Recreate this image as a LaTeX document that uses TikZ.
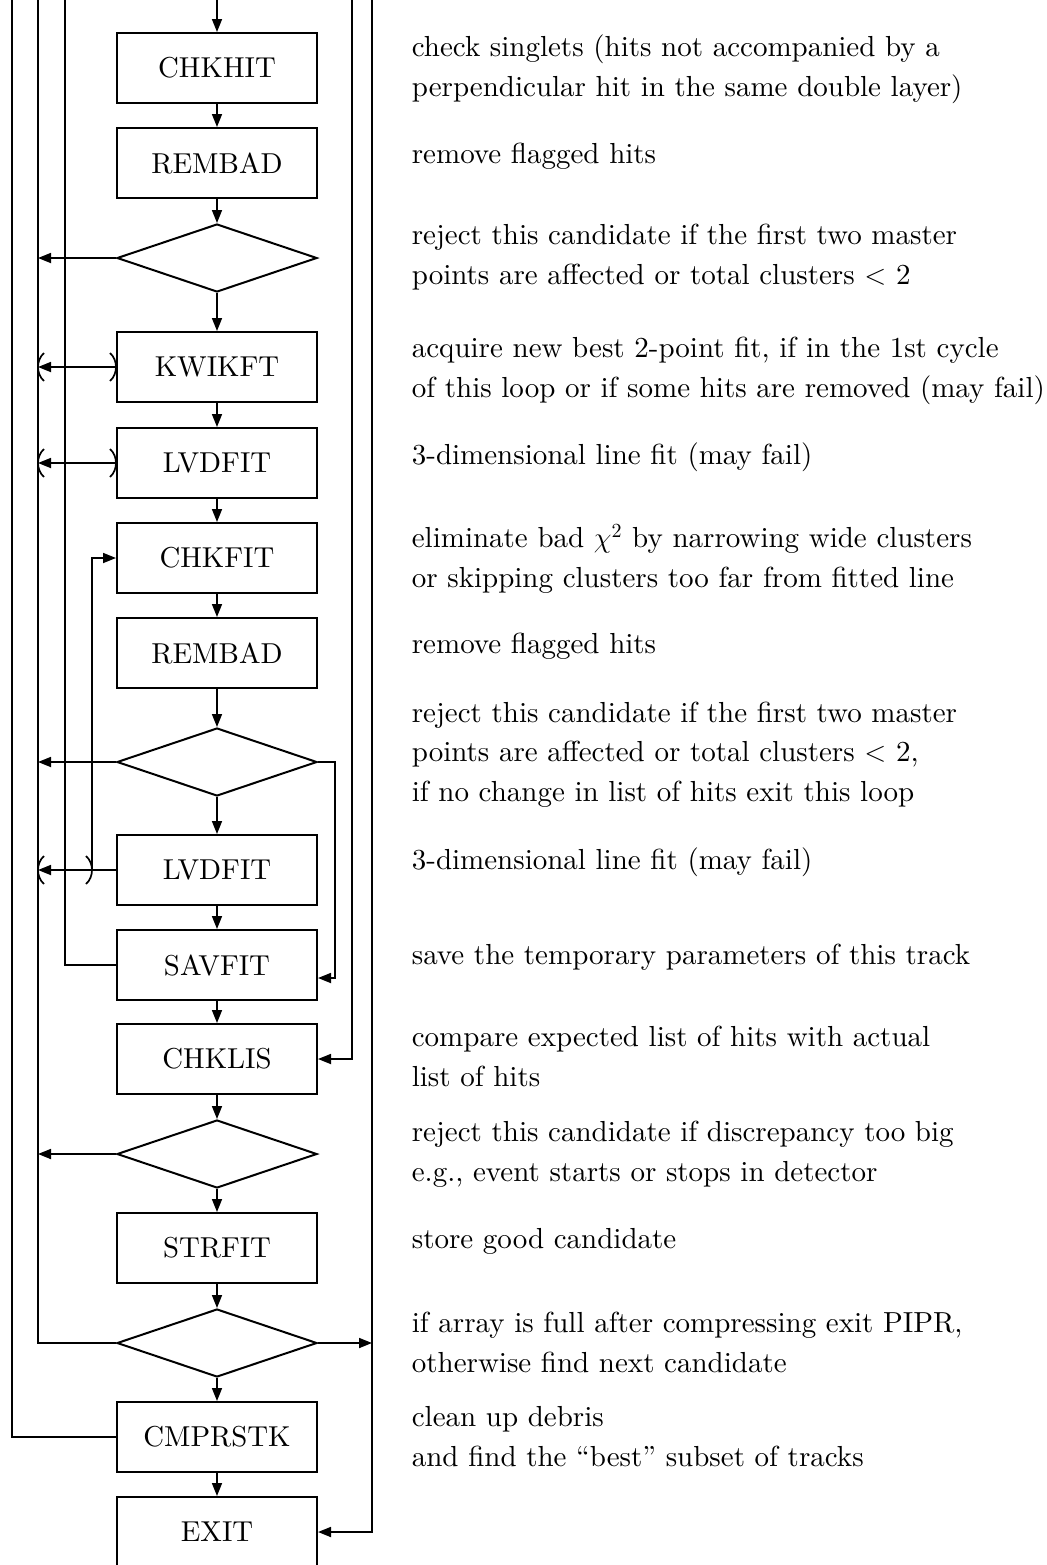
\documentclass[tikz,border=0pt]{standalone}
\usepackage{fontspec}
\setmainfont{lmroman10-regular.otf}[ItalicFont=lmroman10-italic.otf,BoldFont=lmroman10-bold.otf]
\usetikzlibrary{arrows.meta,shapes.geometric,calc}
\begin{document}
\begin{tikzpicture}[x=0.5pt,y=-0.5pt,
  line width=0.85pt,
  box/.style={draw, line width=1pt, minimum width=100pt, minimum height=35pt, inner sep=0pt,
    font=\fontsize{14.4}{17}\selectfont},
  dec/.style={draw, diamond, line width=1pt, minimum width=100pt, minimum height=34pt, inner sep=0pt},
  desc/.style={anchor=base west, align=left, inner sep=0pt,
    font=\fontsize{14.5}{19.75}\selectfont},
  arr/.style={-{Triangle[length=6.5pt,width=5pt]}},
  rbr/.pic={\draw (-6,-14) .. controls (2,-7) and (2,7) .. (-6,14);},
  lbr/.pic={\draw (6,-14) .. controls (-2,-7) and (-2,7) .. (6,14);},
]
\useasboundingbox (0,0) rectangle (1046,1565);

% boxes and decisions
\node[box] (chkhit)  at (217,68)   {CHKHIT};
\node[box] (rembad)  at (217,163)  {REMBAD};
\node[dec] (d1)      at (217,258)  {};
\node[box] (kwikft)  at (217,367)  {KWIKFT};
\node[box] (lvd1)    at (217,463)  {LVDFIT};
\node[box] (chkfit)  at (217,558)  {CHKFIT};
\node[box] (rembad2) at (217,653)  {REMBAD};
\node[dec] (d2)      at (217,762)  {};
\node[box] (lvd2)    at (217,870)  {LVDFIT};
\node[box] (savfit)  at (217,965)  {SAVFIT};
\node[box] (chklis)  at (217,1059) {CHKLIS};
\node[dec] (d3)      at (217,1154) {};
\node[box] (strfit)  at (217,1248) {STRFIT};
\node[dec] (d4)      at (217,1343) {};
\node[box] (cmpr)    at (217,1437) {CMPRSTK};
\node[box] (exit)    at (217,1532) {EXIT};

% line coordinates
\coordinate (top) at (217,0);
\coordinate (l1) at (12,0);
\coordinate (l2) at (38,0);
\coordinate (l3) at (65,0);
\coordinate (l4) at (92,0);
\coordinate (r1) at (335,978);
\coordinate (r2) at (352,0);
\coordinate (r3) at (372,0);

% main flow
\draw[arr] (top) -- (chkhit);
\draw[arr] (chkhit) -- (rembad);
\draw[arr] (rembad) -- (d1);
\draw[arr] (d1) -- (kwikft);
\draw[arr] (kwikft) -- (lvd1);
\draw[arr] (lvd1) -- (chkfit);
\draw[arr] (chkfit) -- (rembad2);
\draw[arr] (rembad2) -- (d2);
\draw[arr] (d2) -- (lvd2);
\draw[arr] (lvd2) -- (savfit);
\draw[arr] (savfit) -- (chklis);
\draw[arr] (chklis) -- (d3);
\draw[arr] (d3) -- (strfit);
\draw[arr] (strfit) -- (d4);
\draw[arr] (d4) -- (cmpr);
\draw[arr] (cmpr) -- (exit);

% left long lines
\draw (cmpr.west) -| (l1);
\draw (d4.west) -| (l2);
\draw (savfit.west) -| (l3);

% rejections to line l2
\draw[arr] (d1.west) -- (d1.west -| l2);
\draw[arr] (d2.west) -- (d2.west -| l2);
\draw[arr] (d3.west) -- (d3.west -| l2);

% may-fail branches
\draw[arr] (kwikft.west) -- (kwikft.west -| l2);
\pic at (kwikft.west) {rbr};
\pic at (kwikft.west -| l2) {lbr};
\draw[arr] (lvd1.west) -- (lvd1.west -| l2);
\pic at (lvd1.west) {rbr};
\pic at (lvd1.west -| l2) {lbr};
\draw[arr] (lvd2.west) -- (lvd2.west -| l2);
\pic at (lvd2.west -| l4) {rbr};
\pic at (lvd2.west -| l2) {lbr};
\draw[arr] (lvd2.west -| l4) |- (chkfit.west);

% right side
\draw[arr] (d2.east) -| (r1) -- (r1 -| savfit.east);
\draw[arr] (r2) |- (chklis.east);
\draw[arr] (r3) |- (exit.east);
\draw[arr] (d4.east) -- (d4.east -| r3);

% descriptions (anchor = baseline of last line)
\node[desc] (t1) at (411,96) {check singlets (hits not accompanied by a\\perpendicular hit in the same double layer)};
\node[desc] (t2) at (411,163) {remove flagged hits};
\node[desc] (t3) at (411,284) {reject this candidate if the first two master\\points are affected or total clusters $<$ 2};
\node[desc] (t4) at (411,397) {acquire new best 2-point fit, if in the 1st cycle\\of this loop or if some hits are removed (may fail)};
\node[desc] (t5) at (411,464) {3-dimensional line fit (may fail)};
\node[desc] (t6) at (411,587) {eliminate bad $\chi^2$ by narrowing wide clusters\\or skipping clusters too far from fitted line};
\node[desc] (t7) at (411,653) {remove flagged hits};
\node[desc] (t8) at (411,801) {reject this candidate if the first two master\\points are affected or total clusters $<$ 2,\\if no change in list of hits exit this loop};
\node[desc] (t9) at (411,869) {3-dimensional line fit (may fail)};
\node[desc] (t10) at (411,964) {save the temporary parameters of this track};
\node[desc] (t11) at (411,1086) {compare expected list of hits with actual\\list of hits};
\node[desc] (t12) at (411,1181) {reject this candidate if discrepancy too big\\e.g., event starts or stops in detector};
\node[desc] (t13) at (411,1248) {store good candidate};
\node[desc] (t14) at (411,1372) {if array is full after compressing exit PIPR,\\otherwise find next candidate};
\node[desc] (t15) at (411,1466) {clean up debris\\and find the ``best'' subset of tracks};
\end{tikzpicture}
\end{document}
